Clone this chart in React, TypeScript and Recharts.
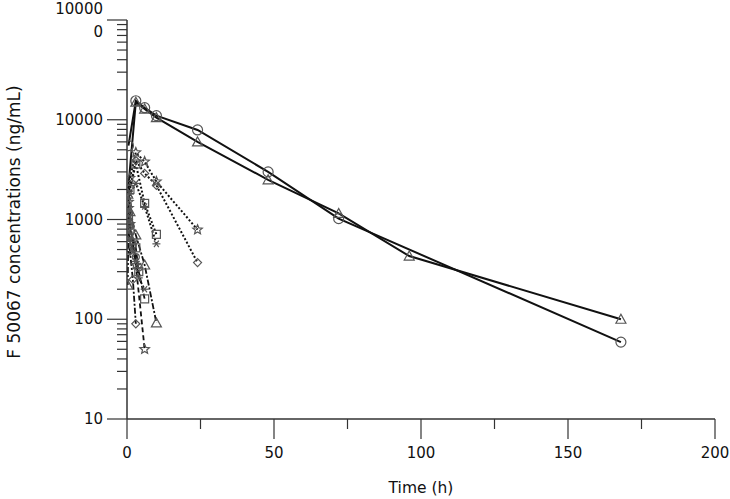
import React from 'react'
import { LineChart, Line, XAxis, YAxis } from 'recharts'

// solid lines (long sampling)
const circleSolid = [
	{ t: 0.5, c: 5500 }, { t: 3, c: 15500 }, { t: 6, c: 13200 }, { t: 10, c: 11000 },
	{ t: 24, c: 7900 }, { t: 48, c: 3000 }, { t: 72, c: 1020 }, { t: 168, c: 59 },
]
const triangleSolid = [
	{ t: 0.25, c: 1800 }, { t: 3, c: 15000 }, { t: 6, c: 12800 }, { t: 10, c: 10500 },
	{ t: 24, c: 6000 }, { t: 48, c: 2500 }, { t: 72, c: 1150 }, { t: 96, c: 430 }, { t: 168, c: 100 },
]
// dotted lines
const starDotted = [
	{ t: 0.5, c: 1500 }, { t: 1, c: 2600 }, { t: 3, c: 4700 }, { t: 6, c: 3800 }, { t: 10, c: 2400 }, { t: 24, c: 790 },
]
const diamondDotted = [
	{ t: 0.5, c: 1000 }, { t: 1, c: 2100 }, { t: 3, c: 3900 }, { t: 6, c: 2900 }, { t: 10, c: 2200 }, { t: 24, c: 370 },
]
const squareDotted = [
	{ t: 0.5, c: 900 }, { t: 1, c: 2000 }, { t: 3, c: 3600 }, { t: 6, c: 1450 }, { t: 10, c: 710 },
]
const asteriskDotted = [
	{ t: 0.5, c: 1200 }, { t: 1, c: 1800 }, { t: 3, c: 2300 }, { t: 6, c: 1350 }, { t: 10, c: 570 },
]
// dash-dot / dashed lines
const diamondDashDot = [
	{ t: 0.25, c: 900 }, { t: 0.5, c: 700 }, { t: 1, c: 480 }, { t: 2, c: 250 }, { t: 3, c: 90 },
]
const triangleDashDot = [
	{ t: 0.25, c: 220 }, { t: 0.5, c: 1000 }, { t: 1, c: 1200 }, { t: 3, c: 700 }, { t: 6, c: 350 }, { t: 10, c: 92 },
]
const starDashed = [
	{ t: 0.5, c: 1300 }, { t: 1, c: 900 }, { t: 2, c: 600 }, { t: 3, c: 350 }, { t: 6, c: 50 },
]
const squareDashed = [
	{ t: 0.5, c: 1100 }, { t: 1, c: 800 }, { t: 3, c: 520 }, { t: 4, c: 300 }, { t: 6, c: 160 },
]
const circleDashed = [
	{ t: 0.25, c: 1400 }, { t: 0.5, c: 1150 }, { t: 1, c: 850 }, { t: 2, c: 560 }, { t: 3, c: 420 }, { t: 4, c: 330 },
]
const asteriskDashDot = [
	{ t: 0.5, c: 750 }, { t: 1, c: 640 }, { t: 2, c: 480 }, { t: 3, c: 380 }, { t: 4, c: 260 }, { t: 6, c: 200 },
]

const xTicks = [0, 25, 50, 75, 100, 125, 150, 175, 200]
const xLabelTicks = [0, 50, 100, 150, 200]
const yMajor = [10, 100, 1000, 10000, 100000]
const yMinorSteps = [2, 3, 4, 5, 6, 7, 8, 9]

const yTicks: number[] = []
yMajor.forEach((m, i) => {
	yTicks.push(m)
	if (i < yMajor.length - 1) yMinorSteps.forEach((s) => yTicks.push(m * s))
})

const axisColor = '#333'
const inkColor = '#111'
const markColor = '#555'
const font = 'DejaVu Sans, Verdana, sans-serif'

const Marker = ({ cx, cy, shape, size }: any) => {
	if (cx == null || cy == null) return null
	const r = size
	const common = { fill: 'none', stroke: markColor, strokeWidth: 1.2 }
	if (shape === 'circle') return <circle cx={cx} cy={cy} r={r} {...common} />
	if (shape === 'square') return <rect x={cx - r} y={cy - r} width={2 * r} height={2 * r} {...common} />
	if (shape === 'triangle')
		return <polygon points={`${cx},${cy - r} ${cx - r},${cy + r * 0.8} ${cx + r},${cy + r * 0.8}`} {...common} />
	if (shape === 'diamond')
		return <polygon points={`${cx},${cy - r} ${cx + r},${cy} ${cx},${cy + r} ${cx - r},${cy}`} {...common} />
	if (shape === 'star') {
		const pts: string[] = []
		for (let k = 0; k < 10; k++) {
			const a = -Math.PI / 2 + (k * Math.PI) / 5
			const rr = k % 2 === 0 ? r : r * 0.45
			pts.push(`${cx + rr * Math.cos(a)},${cy + rr * Math.sin(a)}`)
		}
		return <polygon points={pts.join(' ')} {...common} />
	}
	// asterisk
	return (
		<g {...common}>
			<line x1={cx - r} y1={cy} x2={cx + r} y2={cy} />
			<line x1={cx - r * 0.6} y1={cy - r * 0.8} x2={cx + r * 0.6} y2={cy + r * 0.8} />
			<line x1={cx - r * 0.6} y1={cy + r * 0.8} x2={cx + r * 0.6} y2={cy - r * 0.8} />
		</g>
	)
}

const series = [
	{ name: 'circleSolid', data: circleSolid, shape: 'circle', size: 5, dash: undefined, width: 2 },
	{ name: 'triangleSolid', data: triangleSolid, shape: 'triangle', size: 5, dash: undefined, width: 2 },
	{ name: 'starDotted', data: starDotted, shape: 'star', size: 5, dash: '2 2', width: 2 },
	{ name: 'diamondDotted', data: diamondDotted, shape: 'diamond', size: 4, dash: '2 2', width: 2 },
	{ name: 'squareDotted', data: squareDotted, shape: 'square', size: 4, dash: '2 2', width: 2 },
	{ name: 'asteriskDotted', data: asteriskDotted, shape: 'asterisk', size: 4, dash: '2 2', width: 2 },
	{ name: 'diamondDashDot', data: diamondDashDot, shape: 'diamond', size: 4, dash: '6 2 2 2', width: 1.8 },
	{ name: 'triangleDashDot', data: triangleDashDot, shape: 'triangle', size: 5, dash: '6 2 2 2', width: 1.8 },
	{ name: 'starDashed', data: starDashed, shape: 'star', size: 5, dash: '5 3', width: 1.8 },
	{ name: 'squareDashed', data: squareDashed, shape: 'square', size: 4, dash: '5 3', width: 1.8 },
	{ name: 'circleDashed', data: circleDashed, shape: 'circle', size: 3.5, dash: '5 3', width: 1.8 },
	{ name: 'asteriskDashDot', data: asteriskDashDot, shape: 'asterisk', size: 4, dash: '6 2 2 2', width: 1.8 },
]

const YTick = ({ x, y, payload }: any) => {
	const v = payload.value
	const major = yMajor.includes(v)
	const len = major ? 20 : 10
	return (
		<g>
			<line x1={x - len} x2={x} y1={y} y2={y} stroke={axisColor} strokeWidth={1.2} />
			{major && v === 100000 && (
				<text fontFamily={font} fontSize={15} fill={inkColor} textAnchor="end">
					<tspan x={x - 24} y={y - 6}>10000</tspan>
					<tspan x={x - 24} y={y + 17}>0</tspan>
				</text>
			)}
			{major && v !== 100000 && (
				<text x={x - 24} y={y + 5} fontFamily={font} fontSize={15} fill={inkColor} textAnchor="end">
					{v}
				</text>
			)}
		</g>
	)
}

const XTick = ({ x, y, payload }: any) => {
	const v = payload.value
	const major = xLabelTicks.includes(v)
	const len = major ? 20 : 10
	return (
		<g>
			<line x1={x} x2={x} y1={y} y2={y + len} stroke={axisColor} strokeWidth={1.2} />
			{major && (
				<text x={x} y={y + 39} fontFamily={font} fontSize={15} fill={inkColor} textAnchor="middle">
					{v}
				</text>
			)}
		</g>
	)
}

export default function App() {
	return (
		<div style={{ position: 'absolute', left: 0, top: 0, background: '#fff' }}>
			<LineChart width={730} height={499} margin={{ top: 20, right: 15, bottom: 0, left: 0 }}>
				<XAxis
					type="number"
					dataKey="t"
					domain={[0, 200]}
					ticks={xTicks}
					interval={0}
					height={80}
					tickSize={0}
					tickMargin={0}
					tick={<XTick />}
					axisLine={{ stroke: axisColor, strokeWidth: 1.5 }}
					allowDataOverflow
					label={{
						content: () => (
							<text x={421} y={493} fontFamily={font} fontSize={15.5} fill={inkColor} textAnchor="middle">
								Time (h)
							</text>
						),
					}}
				/>
				<YAxis
					type="number"
					dataKey="c"
					scale="log"
					domain={[10, 100000]}
					ticks={yTicks}
					interval={0}
					width={127}
					tickSize={0}
					tickMargin={0}
					tick={<YTick />}
					axisLine={{ stroke: axisColor, strokeWidth: 1.5 }}
					allowDataOverflow
					label={{
						content: () => (
							<text
								x={20}
								y={222}
								transform="rotate(-90 20 222)"
								fontFamily={font}
								fontSize={17}
								fill={inkColor}
								textAnchor="middle"
							>
								F 50067 concentrations (ng/mL)
							</text>
						),
					}}
				/>
				{series.map((s) => (
					<Line
						key={s.name}
						data={s.data}
						dataKey="c"
						type="linear"
						stroke={inkColor}
						strokeWidth={s.width}
						strokeDasharray={s.dash}
						isAnimationActive={false}
						dot={(p: any) => <Marker key={`${s.name}-${p.index}`} cx={p.cx} cy={p.cy} shape={s.shape} size={s.size} />}
						activeDot={false}
					/>
				))}
			</LineChart>
		</div>
	)
}
